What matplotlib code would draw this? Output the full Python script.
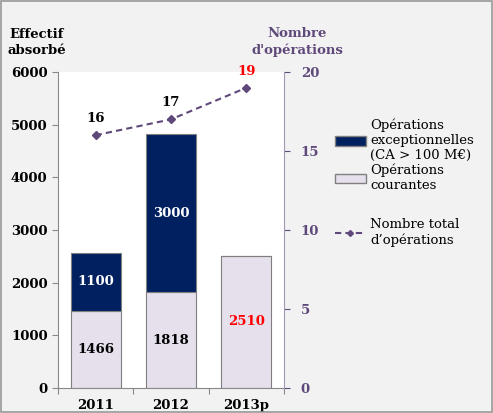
import matplotlib
matplotlib.use("Agg")
import matplotlib.pyplot as plt
from matplotlib.patches import Patch
from matplotlib.lines import Line2D

plt.rcParams['font.family'] = ['DejaVu Serif']

years = ['2011', '2012', '2013p']
courantes = [1466, 1818, 2510]
exceptionnelles = [1100, 3000, 0]
nb_operations = [16, 17, 19]

navy = '#002060'
lilac = '#e6e0ec'
purple = '#5f497a'

fig = plt.figure(figsize=(4.93, 4.13), dpi=100, facecolor='#f2f2f2')
ax = fig.add_axes([0.1176, 0.0605, 0.4584, 0.7652])
ax.set_facecolor('white')

x = range(len(years))
ax.bar(x, courantes, width=0.66, color=lilac, edgecolor='#7f7f7f', linewidth=0.8)
ax.bar(x, exceptionnelles, width=0.66, bottom=courantes, color=navy,
       edgecolor='#7f7f7f', linewidth=0.8)

# value labels in bars
for i in x:
    col = 'red' if years[i] == '2013p' else 'black'
    ax.text(i, courantes[i] / 2, str(courantes[i]), ha='center', va='center',
            fontsize=9.5, fontweight='bold', color=col)
    if exceptionnelles[i] > 0:
        ax.text(i, courantes[i] + exceptionnelles[i] / 2, str(exceptionnelles[i]),
                ha='center', va='center', fontsize=9.5, fontweight='bold', color='white')

ax.set_xlim(-0.5, 2.5)
ax.set_ylim(0, 6000)
ax.set_yticks(range(0, 6001, 1000))
ax.set_xticks([-0.5, 0.5, 1.5, 2.5], minor=False)
ax.set_xticklabels([])
ax.set_xticks(list(x), minor=True)
ax.set_xticklabels(years, minor=True)
ax.tick_params(axis='x', which='minor', length=0, pad=8, labelsize=9.5)
ax.tick_params(axis='x', which='major', length=4, direction='out', color='#888888')
ax.tick_params(axis='y', length=4, direction='out', color='#888888', labelsize=9.5)
for lab in ax.get_xticklabels(minor=True) + ax.get_yticklabels():
    lab.set_fontweight('bold')
for s in ['top', 'right']:
    ax.spines[s].set_visible(False)
ax.spines['left'].set_color('#888888')
ax.spines['bottom'].set_color('#888888')

ax2 = ax.twinx()
ax2.plot(x, nb_operations, linestyle='--', color=purple, marker='D', markersize=4,
         linewidth=1.5, dashes=(3, 2))
ax2.set_ylim(0, 20)
ax2.set_yticks(range(0, 21, 5))
ax2.tick_params(axis='y', colors=purple, length=4, direction='out', labelsize=9.5, pad=8)
for lab in ax2.get_yticklabels():
    lab.set_fontweight('bold')
for s in ['top', 'left', 'bottom']:
    ax2.spines[s].set_visible(False)
ax2.spines['right'].set_color('#a497b8')

for i in x:
    col = 'red' if years[i] == '2013p' else 'black'
    ax2.text(i, nb_operations[i] + 0.65, str(nb_operations[i]), ha='center', va='bottom',
             fontsize=9.5, fontweight='bold', color=col)

fig.text(0.075, 0.862, 'Effectif\nabsorbé', ha='center', va='bottom',
         fontsize=9.5, fontweight='bold', linespacing=1.3)
fig.text(0.603, 0.862, "Nombre\nd'opérations", ha='center', va='bottom',
         fontsize=9.5, fontweight='bold', color=purple, linespacing=1.3)

# legend: bars block, then line entry a bit lower
bar_handles = [Patch(facecolor=navy, edgecolor='#7f7f7f'),
               Patch(facecolor=lilac, edgecolor='#7f7f7f')]
bar_labels = ['Opérations\nexceptionnelles\n(CA > 100 M€)', 'Opérations\ncourantes']
fig.legend(bar_handles, bar_labels, loc='upper left', bbox_to_anchor=(0.668, 0.725),
           frameon=False, fontsize=9.5, handlelength=2.4, handletextpad=0.3,
           labelspacing=0.1, borderaxespad=0)
line_handle = [Line2D([0], [0], color=purple, linestyle='--', marker='D', markersize=3,
                      dashes=(3, 2))]
fig.legend(line_handle, ['Nombre total\nd\u2019opérations'], loc='upper left',
           bbox_to_anchor=(0.668, 0.485), frameon=False, fontsize=9.5,
           handlelength=2.4, handletextpad=0.3, borderaxespad=0)

fig.patches.append(plt.Rectangle((0.002, 0.002), 0.996, 0.996, transform=fig.transFigure,
                                 fill=False, edgecolor='#999999', linewidth=1.2))

fig.savefig('out.png', dpi=100, facecolor=fig.get_facecolor())
